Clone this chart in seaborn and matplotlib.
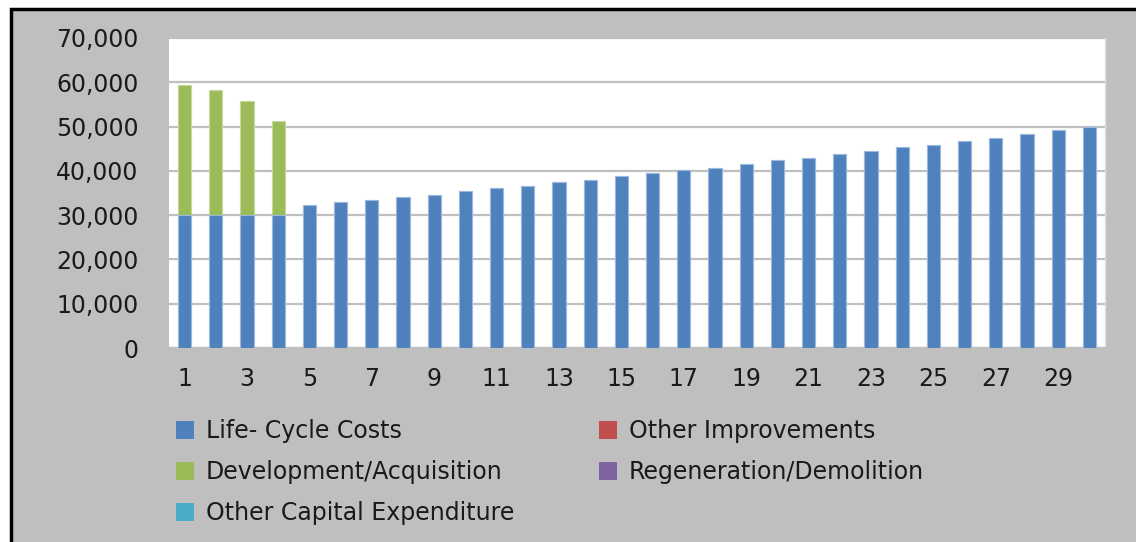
import matplotlib
matplotlib.use("Agg")
import matplotlib.pyplot as plt
from matplotlib.patches import Patch, Rectangle
from matplotlib.ticker import FuncFormatter
import seaborn as sns
import pandas as pd
import numpy as np

years = list(range(1, 31))
life_cycle = [30000, 30000, 30000, 30000, 32400, 32920, 33530, 34050, 34570, 35350,
              36100, 36640, 37540, 37990, 38810, 39410, 40160, 40690, 41590, 42340,
              42950, 43760, 44520, 45420, 45950, 46780, 47520, 48350, 49170, 50000]
development = [29390, 28260, 25840, 21180] + [0] * 26
other_improvements = [0] * 30
regeneration = [0] * 30
other_capex = [0] * 30

series_names = ["Life- Cycle Costs", "Development/Acquisition", "Other Capital Expenditure",
                "Other Improvements", "Regeneration/Demolition"]
series_colors = ["#4F81BD", "#9BBB59", "#4BACC6", "#C0504D", "#8064A2"]

df = pd.DataFrame({"year": years, "lcc": life_cycle, "dev": development,
                   "oi": other_improvements, "rd": regeneration, "oce": other_capex})
df["total"] = df[["lcc", "dev", "oi", "rd", "oce"]].sum(axis=1)

sns.set_theme(style="white")
plt.rcParams["font.family"] = ["DejaVu Sans"]

fig = plt.figure(figsize=(11.36, 5.42), dpi=100, facecolor="white")
# grey chart area with black border on left/top
bg = Rectangle((10.5 / 1136, -0.2), 1.3, 1.2 - 8.5 / 542,
               transform=fig.transFigure, facecolor="#BFBFBF",
               edgecolor="black", linewidth=2.5, zorder=-10)
fig.add_artist(bg)

ax = fig.add_axes([169 / 1136, 1 - 348 / 542, (1105 - 169) / 1136, (348 - 38) / 542])
ax.set_zorder(1)
ax.set_facecolor("white")

# stacked: totals (green on top) then life-cycle over it
sns.barplot(data=df, x="year", y="total", color="#9BBB59", width=0.42,
            edgecolor="#C5DA9A", linewidth=0.8, saturation=1, ax=ax, zorder=3)
sns.barplot(data=df, x="year", y="lcc", color="#4F81BD", width=0.42,
            edgecolor="#9DB9DF", linewidth=0.8, saturation=1, ax=ax, zorder=3)

ax.set_ylim(0, 70000)
ax.set_xlim(-0.5, 29.5)
ax.set_yticks(np.arange(0, 70001, 10000))
ax.yaxis.set_major_formatter(FuncFormatter(lambda v, p: f"{int(v):,}"))
ax.set_xticks(range(0, 30, 2))
ax.set_xticklabels([str(y) for y in years[::2]])
ax.grid(axis="y", color="#BFBFBF", linewidth=1.6, zorder=0)
ax.set_axisbelow(True)
for s in ["top", "left"]:
    ax.spines[s].set_visible(False)
ax.spines["right"].set_color("#E0E0E0")
ax.spines["right"].set_linewidth(1)
ax.spines["bottom"].set_color("#BFBFBF")
ax.spines["bottom"].set_linewidth(1.6)
ax.tick_params(axis="y", length=0, pad=22, labelsize=17, labelcolor="#1A1A1A")
ax.tick_params(axis="x", length=0, pad=14, labelsize=17, labelcolor="#1A1A1A")
ax.set_xlabel("")
ax.set_ylabel("")

handles = [Patch(facecolor=c, edgecolor="none") for c in series_colors]
fig.legend(handles, series_names, ncol=2, loc="upper left",
           bbox_to_anchor=(155 / 1136, 1 - 398 / 542), frameon=False,
           fontsize=17, labelcolor="#1A1A1A", handlelength=0.75, handleheight=0.75,
           handletextpad=0.5, columnspacing=3.6, labelspacing=0.72)

fig.savefig("out.png", dpi=100, facecolor=fig.get_facecolor())
